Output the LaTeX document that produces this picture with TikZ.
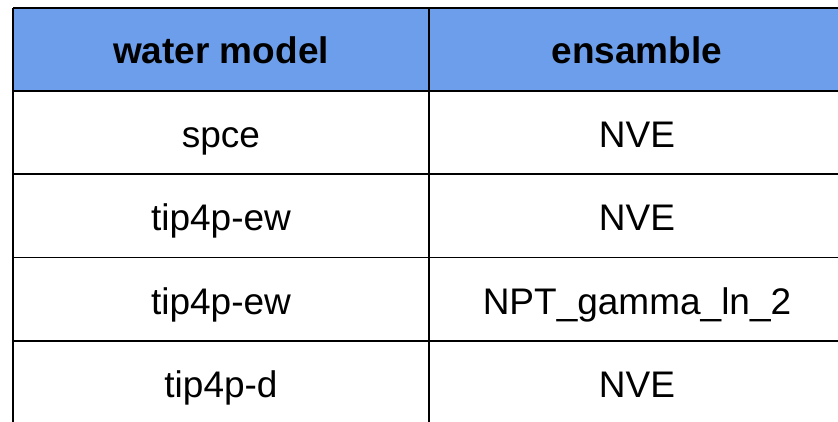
\documentclass[tikz,border=0pt]{standalone}
\usepackage{fontspec}
\setmainfont{Liberation Sans}
\definecolor{headblue}{HTML}{6D9EEB}
\tikzset{
  cell/.style={inner sep=0pt, anchor=base, font=\fontsize{37}{44}\selectfont},
  headcell/.style={cell, font=\fontsize{37}{44}\selectfont\bfseries},
  rule/.style={line width=1.8pt, black},
  headrule/.style={line width=2.6pt, black}
}
\begin{document}
\begin{tikzpicture}[x=1pt, y=-1pt]
  \useasboundingbox (0,0) rectangle (838,421);
  \clip (0,0) rectangle (838,421);
  % header band
  \fill[headblue] (13,8) rectangle (846,91);
  % outer frame and grid
  \draw[rule] (13,8) -- (846,8);
  \draw[rule] (13,8) -- (13,430);
  \draw[rule] (429,8) -- (429,430);
  \draw[headrule] (13,91) -- (846,91);
  \draw[rule] (13,174) -- (846,174);
  \draw[rule] (13,257.5) -- (846,257.5);
  \draw[rule] (13,341) -- (846,341);
  % header texts
  \node[headcell] (h1) at (221,63.5) {water model};
  \node[headcell] (h2) at (637,63.5) {ensamble};
  % body rows
  \node[cell] (a1) at (221,147) {spce};
  \node[cell] (b1) at (637,147) {NVE};
  \node[cell] (a2) at (221,230.5) {tip4p-ew};
  \node[cell] (b2) at (637,230.5) {NVE};
  \node[cell] (a3) at (221,314) {tip4p-ew};
  \node[cell] (b3) at (637,314) {NPT\_gamma\_ln\_2};
  \node[cell] (a4) at (221,397.5) {tip4p-d};
  \node[cell] (b4) at (637,397.5) {NVE};
\end{tikzpicture}
\end{document}
